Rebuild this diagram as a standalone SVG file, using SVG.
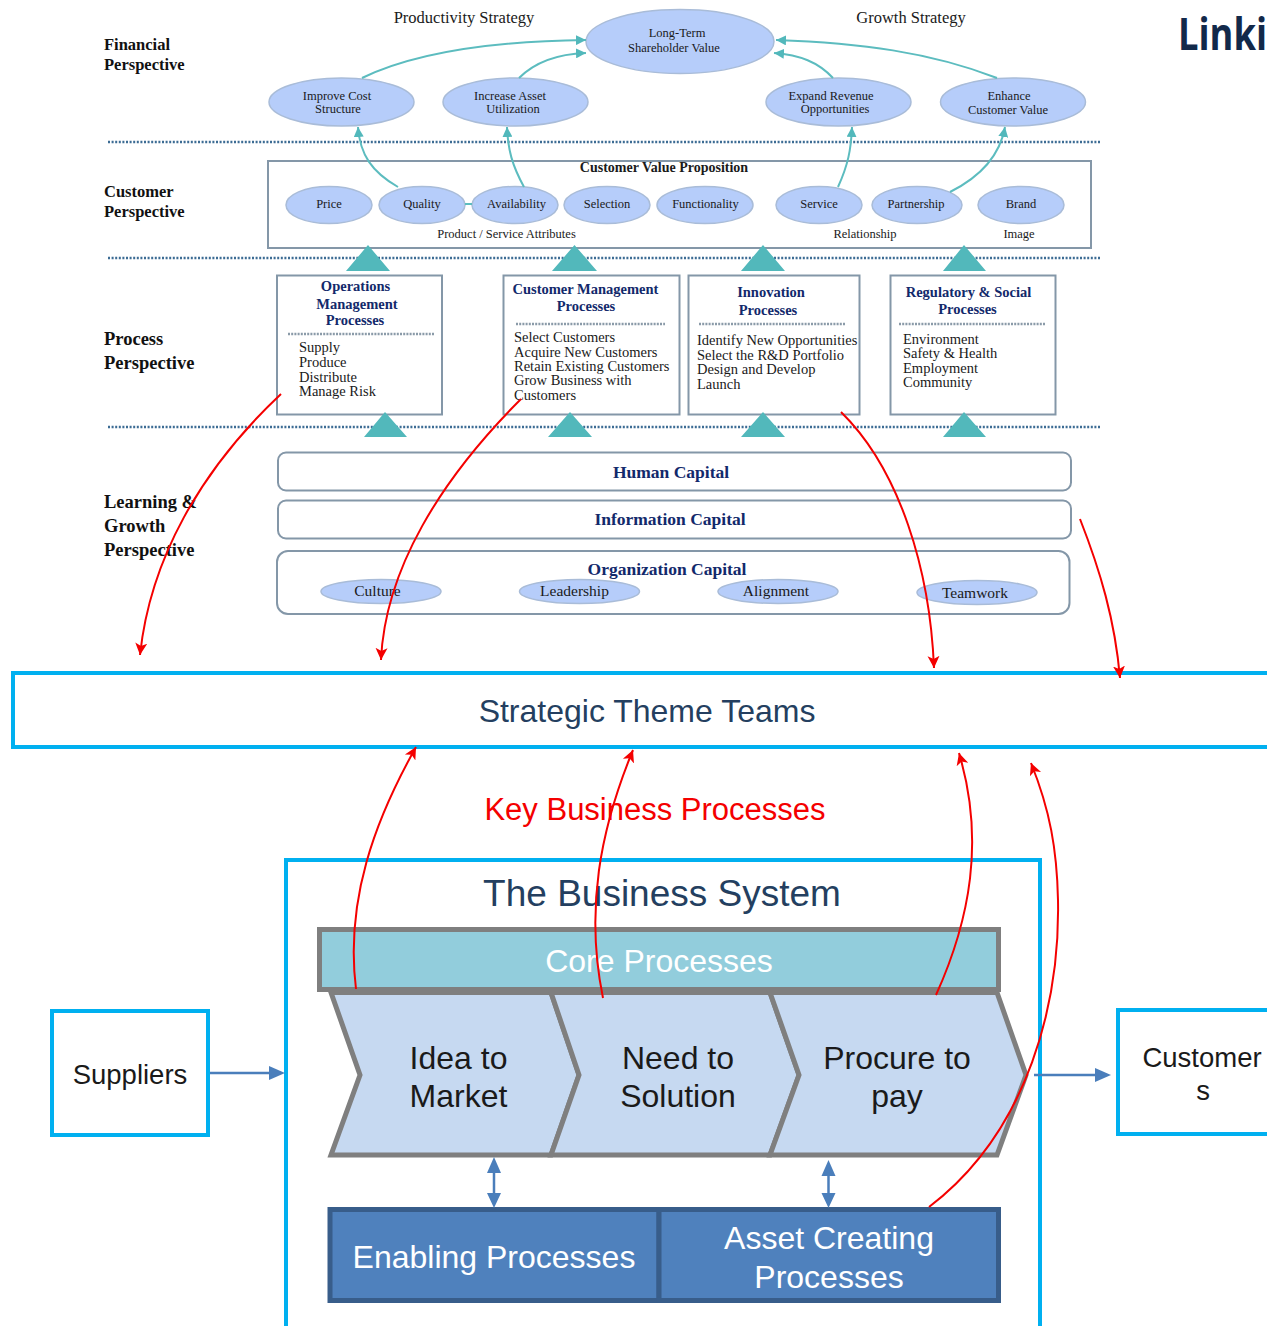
<svg xmlns="http://www.w3.org/2000/svg" width="1267" height="1326" viewBox="0 0 1267 1326">
<style>
text{font-family:"Liberation Serif","Times New Roman",serif;fill:#1a1a1a;text-anchor:middle}
.s{font-family:"Liberation Sans",Arial,sans-serif}
.l{font-size:18.5px;font-weight:bold;text-anchor:start;fill:#111}
.lf{font-size:16.5px;font-weight:bold;text-anchor:start;fill:#111}
.e{fill:#b6cdfa;stroke:#a9bcd8;stroke-width:1.5}
.t12{font-size:12.5px}
.t13{font-size:14.5px;text-anchor:start}
.hd{font-size:14.5px;font-weight:bold;fill:#12296b}
.cap{font-size:17.5px;font-weight:bold;fill:#12296b}
.box{fill:#fff;stroke:#8497a8;stroke-width:2}
.dot{fill:none;stroke:#3c6c94;stroke-width:2.5;stroke-dasharray:2 1.6}
.dot2{fill:none;stroke:#8a9aa8;stroke-width:2.5;stroke-dasharray:2 1.2}
.tri{fill:#52b8bb}
.teal{fill:none;stroke:#5cbcbf;stroke-width:2;marker-end:url(#ta)}
.red{fill:none;stroke:#f40000;stroke-width:2;marker-end:url(#ra)}
.blue{stroke:#4a7ebb;stroke-width:2.5;fill:none}
.cy{fill:#fff;stroke:#00b0f0;stroke-width:4}
.chev{fill:#c6d9f1;stroke:#7f7f7f;stroke-width:5}
.big{font-family:"Liberation Sans",Arial,sans-serif;font-size:32px}
.wh{fill:#fff}
</style>
<defs>
<marker id="ta" markerUnits="userSpaceOnUse" markerWidth="12" markerHeight="10" refX="10" refY="5" orient="auto"><path d="M0 0L10 5L0 10Z" fill="#52b8bb"/></marker>
<marker id="ra" markerUnits="userSpaceOnUse" markerWidth="14" markerHeight="14" refX="12" refY="7" orient="auto"><path d="M0 1L12 7L0 13L3 7Z" fill="#f40000"/></marker>
</defs>

<g id="sep"><path class="dot" d="M108 142H1100M108 258H1100M108 427H1100"/></g>

<g id="labels">
<text class="lf" x="104" y="50">Financial</text><text class="lf" x="104" y="70">Perspective</text>
<text class="lf" x="104" y="197">Customer</text><text class="lf" x="104" y="217">Perspective</text>
<text class="l" x="104" y="345">Process</text><text class="l" x="104" y="369">Perspective</text>
<text class="l" x="104" y="508">Learning &amp;</text><text class="l" x="104" y="532">Growth</text><text class="l" x="104" y="556">Perspective</text>
<text x="464" y="23" font-size="16.5">Productivity Strategy</text>
<text x="911" y="23" font-size="16.5">Growth Strategy</text>
<text class="s" x="1178" y="50" font-size="45" font-weight="bold" style="text-anchor:start;fill:#12294a;font-family:'Open Sans','Liberation Sans',sans-serif" textLength="89" lengthAdjust="spacingAndGlyphs">Linki</text>
</g>

<g id="n-cvp"><rect class="box" x="268" y="161" width="823" height="87"/>
<text x="664" y="171.500" font-size="14" font-weight="bold" fill="#111">Customer Value Proposition</text>
<text x="506.500" y="238" class="t12">Product / Service Attributes</text>
<text x="865" y="238" class="t12">Relationship</text>
<text x="1019" y="238" class="t12">Image</text></g>

<g id="n-ltv"><ellipse class="e" cx="680" cy="41.500" rx="94" ry="32"/><text class="t12" x="677" y="37">Long-Term</text><text class="t12" x="674" y="52">Shareholder Value</text></g>
<g id="n-f1"><ellipse class="e" cx="341.500" cy="102" rx="72.500" ry="24"/><text class="t12" x="337" y="99.500">Improve Cost</text><text class="t12" x="338" y="113">Structure</text></g>
<g id="n-f2"><ellipse class="e" cx="515.500" cy="102" rx="72.500" ry="24"/><text class="t12" x="510" y="99.500">Increase Asset</text><text class="t12" x="513" y="113">Utilization</text></g>
<g id="n-f3"><ellipse class="e" cx="838.500" cy="102" rx="72.500" ry="24"/><text class="t12" x="831" y="99.500">Expand Revenue</text><text class="t12" x="835" y="113">Opportunities</text></g>
<g id="n-f4"><ellipse class="e" cx="1013" cy="102" rx="72.500" ry="24"/><text class="t12" x="1009" y="99.500">Enhance</text><text class="t12" x="1008" y="113.500">Customer Value</text></g>

<g id="n-c1"><ellipse class="e" cx="329" cy="205" rx="43" ry="18.500"/><text class="t12" x="329" y="208">Price</text></g>
<g id="n-c2"><ellipse class="e" cx="422" cy="205" rx="43" ry="18.500"/><text class="t12" x="422" y="208">Quality</text></g>
<g id="n-c3"><ellipse class="e" cx="515" cy="205" rx="43" ry="18.500"/><text class="t12" x="516.500" y="208">Availability</text></g>
<g id="n-c4"><ellipse class="e" cx="607" cy="205" rx="43" ry="18.500"/><text class="t12" x="607" y="208">Selection</text></g>
<g id="n-c5"><ellipse class="e" cx="705" cy="205" rx="48" ry="18.500"/><text class="t12" x="705.500" y="208">Functionality</text></g>
<g id="n-c6"><ellipse class="e" cx="819" cy="205" rx="43" ry="18.500"/><text class="t12" x="819" y="208">Service</text></g>
<g id="n-c7"><ellipse class="e" cx="917" cy="205" rx="45" ry="18.500"/><text class="t12" x="916" y="208">Partnership</text></g>
<g id="n-c8"><ellipse class="e" cx="1021" cy="205" rx="43" ry="18.500"/><text class="t12" x="1021" y="208">Brand</text></g>

<g id="n-p1"><rect class="box" x="277" y="275.500" width="165" height="139"/>
<text class="hd" x="355.500" y="291">Operations</text><text class="hd" x="357" y="308.500">Management</text><text class="hd" x="355" y="325">Processes</text>
<path class="dot2" d="M288 334H434"/>
<text class="t13" x="299" y="352">Supply</text><text class="t13" x="299" y="367">Produce</text><text class="t13" x="299" y="381.500">Distribute</text><text class="t13" x="299" y="396">Manage Risk</text></g>
<g id="n-p2"><rect class="box" x="503.500" y="275.500" width="176" height="139"/>
<text class="hd" x="585.500" y="294">Customer Management</text><text class="hd" x="586" y="310.500">Processes</text>
<path class="dot2" d="M516 324H665"/>
<text class="t13" x="514" y="341.500">Select Customers</text><text class="t13" x="514" y="356.500">Acquire New Customers</text><text class="t13" x="514" y="371">Retain Existing Customers</text><text class="t13" x="514" y="385">Grow Business with</text><text class="t13" x="514" y="399.500">Customers</text></g>
<g id="n-p3"><rect class="box" x="688.500" y="275.500" width="171" height="139"/>
<text class="hd" x="771" y="297">Innovation</text><text class="hd" x="768" y="314.500">Processes</text>
<path class="dot2" d="M699 324H846"/>
<text class="t13" x="697" y="345">Identify New Opportunities</text><text class="t13" x="697" y="359.500">Select the R&amp;D Portfolio</text><text class="t13" x="697" y="374">Design and Develop</text><text class="t13" x="697" y="388.500">Launch</text></g>
<g id="n-p4"><rect class="box" x="890.500" y="275.500" width="165" height="139"/>
<text class="hd" x="968.500" y="297">Regulatory &amp; Social</text><text class="hd" x="967.500" y="313.500">Processes</text>
<path class="dot2" d="M899 324H1045"/>
<text class="t13" x="903" y="343.500">Environment</text><text class="t13" x="903" y="358">Safety &amp; Health</text><text class="t13" x="903" y="373">Employment</text><text class="t13" x="903" y="387">Community</text></g>

<g id="tris"><path class="tri" d="M368 245L390 271H346ZM574.500 245L597 271H552ZM763 245L785 271H741ZM964 245L986 271H943ZM385 412L407 437H364ZM570 412L592 437H548ZM763 412L785 437H741ZM964 412L986 437H943Z"/></g>

<g id="n-hc"><rect class="box" x="278" y="452.500" width="793" height="38" rx="8"/><text class="cap" x="671" y="478">Human Capital</text></g>
<g id="n-ic"><rect class="box" x="278" y="500.500" width="793" height="38" rx="8"/><text class="cap" x="670" y="525">Information Capital</text></g>
<g id="n-oc"><rect class="box" x="277" y="551" width="792.500" height="63" rx="11"/><text class="cap" x="667" y="575">Organization Capital</text></g>
<g id="n-o1"><ellipse class="e" cx="381" cy="591.500" rx="60" ry="12"/><text x="377.500" y="596" font-size="15.500">Culture</text></g>
<g id="n-o2"><ellipse class="e" cx="579.500" cy="591.500" rx="60" ry="12"/><text x="574.500" y="596" font-size="15.500">Leadership</text></g>
<g id="n-o3"><ellipse class="e" cx="778" cy="591.500" rx="60" ry="12"/><text x="776" y="596" font-size="15.500">Alignment</text></g>
<g id="n-o4"><ellipse class="e" cx="977" cy="592.500" rx="60" ry="12"/><text x="975" y="597.500" font-size="15.500">Teamwork</text></g>

<g id="n-stt"><path class="cy" d="M1275 673H13V747H1275"/><text class="s" x="647" y="722" font-size="32" fill="#243f60" style="fill:#243f60">Strategic Theme Teams</text></g>
<text class="s" x="655" y="820" font-size="31" style="fill:#f40000">Key Business Processes</text>

<g id="n-bs"><path class="cy" d="M286 1330V860H1040V1330"/><text class="s" x="662" y="906" font-size="37" style="fill:#243f60">The Business System</text></g>
<g id="n-core"><rect x="319.500" y="929.500" width="679" height="60" fill="#92cddc" stroke="#7f7f7f" stroke-width="5"/><text class="s wh" x="659" y="972" font-size="32" style="fill:#fff">Core Processes</text></g>
<g id="n-ch1"><path class="chev" d="M331 992.500H551L579 1075L551 1155H331L360 1075Z"/><text class="big" x="458.500" y="1069">Idea to</text><text class="big" x="458.500" y="1107">Market</text></g>
<g id="n-ch2"><path class="chev" d="M551 992.500H770L799 1075L770 1155H551L579 1075Z"/><text class="big" x="678" y="1069">Need to</text><text class="big" x="678" y="1107">Solution</text></g>
<g id="n-ch3"><path class="chev" d="M770 992.500H997L1026 1075L997 1155H770L799 1075Z"/><text class="big" x="897" y="1069">Procure to</text><text class="big" x="897" y="1107">pay</text></g>
<g id="n-en"><rect x="330" y="1209.500" width="329" height="91" fill="#4f81bd" stroke="#385d8a" stroke-width="5"/><text class="big" x="494" y="1268" style="fill:#fff">Enabling Processes</text></g>
<g id="n-as"><rect x="659" y="1209.500" width="339.500" height="91" fill="#4f81bd" stroke="#385d8a" stroke-width="5"/><text class="big" x="829" y="1249" style="fill:#fff">Asset Creating</text><text class="big" x="829" y="1288" style="fill:#fff">Processes</text></g>
<g id="n-sup"><rect class="cy" x="52" y="1011" width="156" height="124"/><text class="s" x="130" y="1084" font-size="27.500">Suppliers</text></g>
<g id="n-cus"><rect class="cy" x="1118" y="1010" width="160" height="124"/><text class="s" x="1202" y="1067" font-size="27.500">Customer</text><text class="s" x="1203" y="1100" font-size="27.500">s</text></g>

<g id="connectors">
<path class="teal" d="M362 78C420 50 500 41 586 40"/>
<path class="teal" d="M519 78C535 62 558 54 586 53"/>
<path class="teal" d="M997 78C930 52 860 43 776 40"/>
<path class="teal" d="M833 78C818 62 800 55 774 53"/>
<path class="teal" d="M398 187C372 172 360 155 358 127"/>
<path class="teal" d="M524 187C512 165 508 150 507 127"/>
<path class="teal" d="M838 187C848 165 851 150 852 127"/>
<path class="teal" d="M950 192C980 177 1000 155 1005 127"/>
<path d="M465 204H472" fill="none" stroke="#5cbcbf" stroke-width="2"/>
<path class="red" d="M281 394C200 470 150 560 140 655"/>
<path class="red" d="M521 399C440 480 385 570 381 660"/>
<path class="red" d="M841 412C900 470 930 570 934 668"/>
<path class="red" d="M1080 519C1100 570 1115 620 1120 678"/>
<path class="red" d="M356 989C345 900 375 820 416 747"/>
<path class="red" d="M603 998C585 910 600 830 633 750"/>
<path class="red" d="M936 995C970 920 985 840 959 753"/>
<path class="red" d="M929 1207C1030 1130 1060 1000 1058 900C1057 850 1050 810 1031 763"/>
<path class="blue" d="M210 1073H277"/><path d="M269 1066L285 1073L269 1080Z" fill="#4a7ebb"/>
<path class="blue" d="M1034 1075H1100"/><path d="M1095 1068L1111 1075L1095 1082Z" fill="#4a7ebb"/>
<path class="blue" d="M494 1165V1200"/><path d="M494 1157L501 1173H487ZM494 1208L501 1193H487Z" fill="#4a7ebb"/>
<path class="blue" d="M828.500 1168V1200"/><path d="M828.500 1160L835.500 1176H821.500ZM828.500 1208L835.500 1193H821.500Z" fill="#4a7ebb"/>
</g>
</svg>
